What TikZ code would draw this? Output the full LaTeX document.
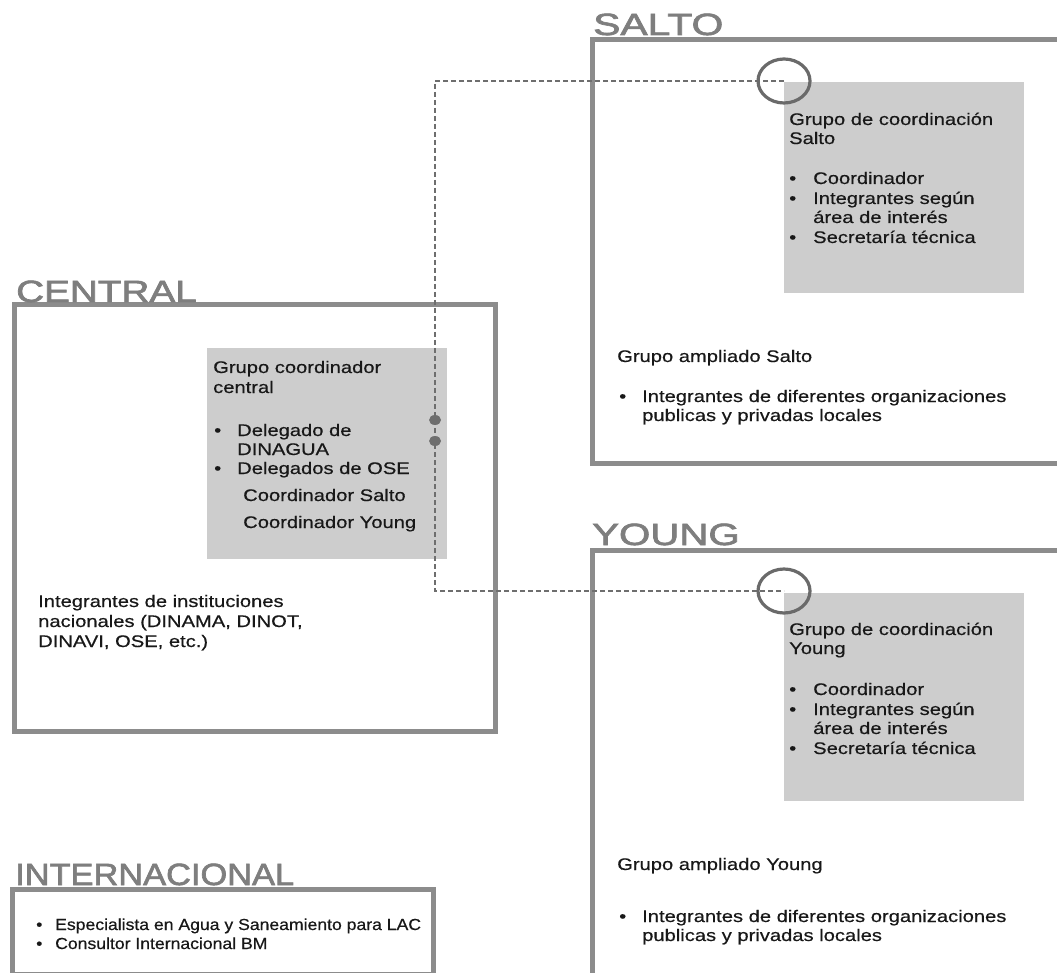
\documentclass[tikz,border=0pt]{standalone}
\usepackage{fontspec}
\setmainfont{Liberation Sans}[FakeStretch=1.2,FakeBold=0.5]
\newfontfamily\titlefont{Liberation Sans}[FakeBold=2]
\newfontfamily\intfont{Liberation Sans}[FakeStretch=1.1,FakeBold=0.5]
\usetikzlibrary{shapes.geometric}
\definecolor{framegray}{HTML}{8C8C8C}
\definecolor{titlegray}{HTML}{7E7E7E}
\definecolor{boxgray}{HTML}{CDCDCD}
\definecolor{dashgray}{HTML}{6E6E6E}
\definecolor{ringgray}{HTML}{6A6A6A}
\definecolor{txtcol}{HTML}{181818}
\begin{document}
\begin{tikzpicture}[x=1pt,y=-1pt,
  frame/.style={draw=framegray,line width=5pt},
  graybox/.style={fill=boxgray},
  ttl/.style={anchor=base west,inner sep=0pt,text=titlegray,font=\titlefont\fontsize{30.7}{30.7}\selectfont},
  tx/.style={anchor=base west,inner sep=0pt,text=txtcol,font=\fontsize{16.8}{19.5}\selectfont},
  itx/.style={anchor=base west,inner sep=0pt,text=txtcol,font=\intfont\fontsize{16}{19}\selectfont},
  dashline/.style={draw=dashgray,line width=2.5pt,dash pattern=on 5pt off 3pt},
  ring/.style={ellipse,draw=ringgray,line width=3.2pt,minimum width=52pt,minimum height=44pt,inner sep=0pt},
  dot/.style={ellipse,fill=dashgray,minimum width=12pt,minimum height=10pt,inner sep=0pt}]
\useasboundingbox (0,0) rectangle (1057,973);
\clip (0,0) rectangle (1057,973);
\fill[white] (0,0) rectangle (1057,973);

% frames
\draw[frame] (592,40) rectangle (1085,463);
\draw[frame] (14,305) rectangle (495,731);
\draw[frame] (592,550) rectangle (1085,1000);
\draw[frame] (12,889) rectangle (433,974);

% gray boxes
\fill[graybox] (784,82) rectangle (1024,293);
\fill[graybox] (207,348) rectangle (447,559);
\fill[graybox] (784,593) rectangle (1024,801);

% titles
\node[ttl] (tsalto) at (593,35) {\scalebox{1.33}[1]{SALTO}};
\node[ttl] (tcentral) at (16,302) {\scalebox{1.26}[1]{CENTRAL}};
\node[ttl] (tyoung) at (592,545) {\scalebox{1.31}[1]{YOUNG}};
\node[ttl] (tint) at (15,885) {\scalebox{1.12}[1]{INTERNACIONAL}};

% Salto texts
\node[tx] (s1) at (789,125) {Grupo de coordinación};
\node[tx] (s2) at (789,144) {Salto};
\node[tx] (sb1) at (789,184) {•};
\node[tx] (s3) at (813,184) {Coordinador};
\node[tx] (sb2) at (789,204) {•};
\node[tx] (s4) at (813,204) {Integrantes según};
\node[tx] (s5) at (813,223) {área de interés};
\node[tx] (sb3) at (789,243) {•};
\node[tx] (s6) at (813,243) {Secretaría técnica};
\node[tx] (sa1) at (617,362) {Grupo ampliado Salto};
\node[tx] (sab) at (619,402) {•};
\node[tx] (sa2) at (642,402) {Integrantes de diferentes organizaciones};
\node[tx] (sa3) at (642,421) {publicas y privadas locales};

% Young texts
\node[tx] (y1) at (789,635) {Grupo de coordinación};
\node[tx] (y2) at (789,654) {Young};
\node[tx] (yb1) at (789,695) {•};
\node[tx] (y3) at (813,695) {Coordinador};
\node[tx] (yb2) at (789,715) {•};
\node[tx] (y4) at (813,715) {Integrantes según};
\node[tx] (y5) at (813,734) {área de interés};
\node[tx] (yb3) at (789,754) {•};
\node[tx] (y6) at (813,754) {Secretaría técnica};
\node[tx] (ya1) at (617,870) {Grupo ampliado Young};
\node[tx] (yab) at (619,922) {•};
\node[tx] (ya2) at (642,922) {Integrantes de diferentes organizaciones};
\node[tx] (ya3) at (642,941) {publicas y privadas locales};

% Central texts
\node[tx] (c1) at (213,373) {Grupo coordinador};
\node[tx] (c2) at (213,393) {central};
\node[tx] (cb1) at (214,436) {•};
\node[tx] (c3) at (237,436) {Delegado de};
\node[tx] (c4) at (237,455) {DINAGUA};
\node[tx] (cb2) at (214,474) {•};
\node[tx] (c5) at (237,474) {Delegados de OSE};
\node[tx] (c6) at (243,501) {Coordinador Salto};
\node[tx] (c7) at (243,528) {Coordinador Young};
\node[tx] (n1) at (38,607) {Integrantes de instituciones};
\node[tx] (n2) at (38,627) {nacionales (DINAMA, DINOT,};
\node[tx] (n3) at (38,647) {DINAVI, OSE, etc.)};

% Internacional texts
\node[itx] (ib1) at (36,930) {•};
\node[itx] (i1) at (55,930) {Especialista en Agua y Saneamiento para LAC};
\node[itx] (ib2) at (36,949) {•};
\node[itx] (i2) at (55,949) {Consultor Internacional BM};

% connector
\coordinate (cs) at (784,81);
\coordinate (cy) at (784,591);
\coordinate (jn) at (435,591);
\draw[dashline] (cs) -| (jn) -- (cy);
\node[ring] (rs) at (cs) {};
\node[ring] (ry) at (cy) {};
\node[dot] (d1) at (435,420) {};
\node[dot] (d2) at (435,441) {};
\end{tikzpicture}
\end{document}
